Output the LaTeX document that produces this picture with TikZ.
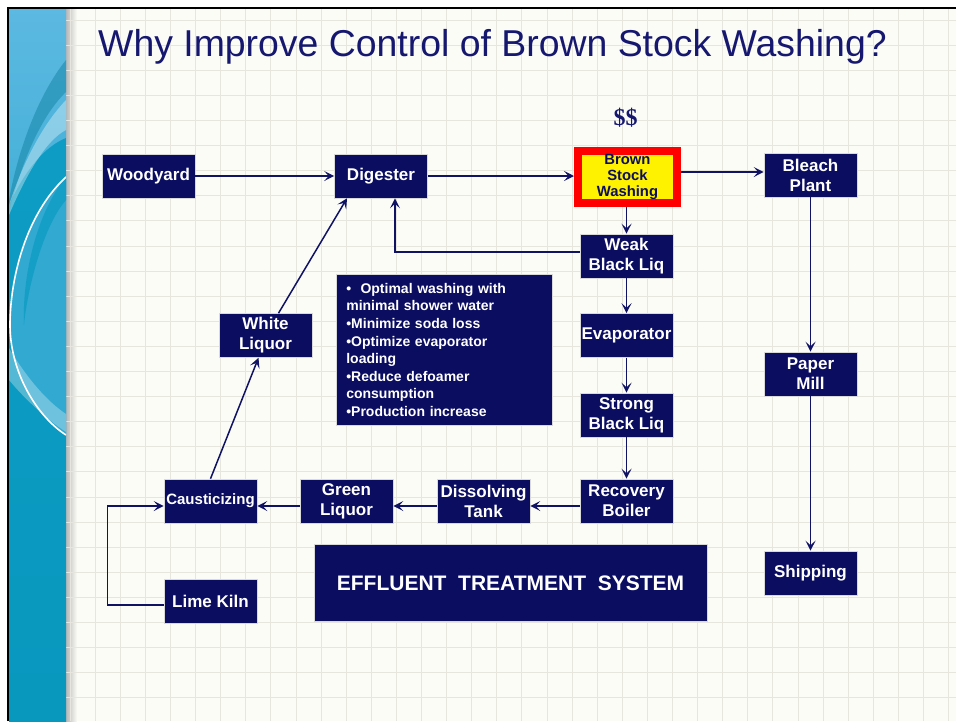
\documentclass[tikz,border=0pt]{standalone}
\usepackage{fontspec}
\setmainfont{Liberation Sans}
\newfontfamily\dollars{Liberation Serif}
\usetikzlibrary{arrows.meta,positioning}

\definecolor{marine}{RGB}{11,13,96}
\definecolor{trait}{RGB}{16,18,100}
\definecolor{titre}{RGB}{22,24,112}
\definecolor{fond}{RGB}{252,252,247}
\definecolor{grille}{RGB}{230,230,222}
\definecolor{bleuclair}{RGB}{92,185,225}
\definecolor{bleufonce}{RGB}{8,152,190}
\definecolor{turquoise}{RGB}{14,156,196}

\tikzset{
  bloc/.style={draw=black!15, line width=0.6pt, fill=marine, text=white,
    font=\fontsize{17}{20}\selectfont\bfseries,
    minimum width=93pt, minimum height=44pt, inner sep=0pt, align=center},
  fleche/.style={draw=trait, line width=1.5pt,
    -{Stealth[length=10pt,width=10pt,inset=4.5pt]}},
  ligne grille/.style={draw=grille, line width=0.8pt},
}

\begin{document}
\begin{tikzpicture}[x=1pt, y=-1pt]
  \useasboundingbox (0,0) rectangle (956,721);

  % fond de la diapo : cadre, bandeau bleu, quadrillage
  \fill[white] (0,0) rectangle (956,721);
  \fill[fond] (9,9) rectangle (956,721);
  \shade[left color=black!28, right color=fond] (66,9) rectangle (77,721);
  \foreach \i in {0,...,35}
    \draw[ligne grille] (70+25.1*\i,9) -- (70+25.1*\i,721);
  \foreach \j in {0,...,27}
    \draw[ligne grille] (66,20+25.1*\j) -- (956,20+25.1*\j);

  \begin{scope}
    \clip (9,9) rectangle (66,721);
    \shade[top color=bleuclair, bottom color=bleufonce] (9,9) rectangle (66,721);
    \shade[top color=turquoise, bottom color=bleufonce] (9,205) .. controls (26,168) and (46,146) .. (66,138)
      -- (66,721) -- (9,721) -- cycle;
    \fill[bleuclair!45!turquoise] (66,177) .. controls (25,215) and (10,280) .. (10,325)
      .. controls (10,370) and (35,415) .. (66,435) -- cycle;
    \fill[turquoise, opacity=.8] (66,177) .. controls (35,215) and (22,280) .. (24,325)
      .. controls (26,300) and (40,230) .. (66,200) -- cycle;
    \fill[turquoise!80!black, opacity=.45] (66,60) .. controls (38,95) and (18,150) .. (9,200)
      -- (9,212) .. controls (22,160) and (42,115) .. (66,92) -- cycle;
    \fill[white, opacity=.35] (66,100) .. controls (42,125) and (22,165) .. (9,205)
      -- (9,215) .. controls (26,175) and (46,140) .. (66,130) -- cycle;
    \fill[white, opacity=.3] (9,348) .. controls (28,380) and (48,402) .. (66,414)
      -- (66,432) .. controls (45,418) and (24,398) .. (9,380) -- cycle;
    \draw[white, line width=1.6pt] (66,177) .. controls (25,215) and (10,280) .. (10,325)
      .. controls (10,370) and (35,415) .. (66,435);
  \end{scope}
  \draw[black, line width=2.5pt] (8,721) -- (8,8) -- (956,8);

  \node[anchor=base west, text=titre, font=\fontsize{37.4}{40}\selectfont, inner sep=0pt]
    (titre) at (98,56) {Why Improve Control of Brown Stock Washing?};
  \node[text=titre, font=\dollars\fontsize{24}{24}\selectfont\bfseries] (cout) at (625.5,118) {\$\$};

  % les etapes du procede
  \node[bloc] (bois) at (148.5,176) {Woodyard};
  \node[bloc] (lessiveur) at (381,176) {Digester};
  \node[draw=red, line width=8pt, fill=yellow, text=marine,
    font=\fontsize{14.8}{15.8}\selectfont\bfseries,
    minimum width=99pt, minimum height=52pt, inner sep=0pt, align=center]
    (lavage) at (627.5,177) {Brown\\Stock\\Washing};
  \node[bloc] (blanchiment) at (810.5,175) {Bleach\\Plant};
  \node[bloc] (liqfaible) at (626.5,256) {Weak\\Black Liq};
  \node[bloc] (evap) at (626.5,335.5) {Evaporator};
  \node[bloc] (liqforte) at (626.5,415) {Strong\\Black Liq};
  \node[bloc] (chaudiere) at (626.5,501) {Recovery\\Boiler};
  \node[bloc] (dissol) at (483.5,501) {Dissolving\\Tank};
  \node[bloc] (liqverte) at (346.5,501) {Green\\Liquor};
  \node[bloc, font=\fontsize{15}{18}\selectfont\bfseries] (caust) at (210.5,501) {Causticizing};
  \node[bloc] (four) at (210.5,601) {Lime Kiln};
  \node[bloc] (liqblanche) at (265.5,335.5) {White\\Liquor};
  \node[bloc] (papier) at (810.5,374) {Paper\\Mill};
  \node[bloc] (expedition) at (810.5,573) {Shipping};
  \node[bloc, minimum width=393pt, minimum height=77pt,
    font=\fontsize{21}{24}\selectfont\bfseries]
    (effluents) at (510.5,583) {EFFLUENT\ \ TREATMENT\ \ SYSTEM};
  \node[bloc, anchor=north west, minimum width=216pt, minimum height=151pt,
    text width=196pt, inner xsep=10pt, align=left,
    font=\fontsize{14}{17.6}\selectfont\bfseries]
    (gains) at (336,274) {\textbullet\ \ Optimal washing with\\
      minimal shower water\\
      \textbullet Minimize soda loss\\
      \textbullet Optimize evaporator\\
      loading\\
      \textbullet Reduce defoamer\\
      consumption\\
      \textbullet Production increase};

  % les liaisons
  \draw[fleche] (bois) -- (lessiveur);
  \draw[fleche] (lessiveur) -- (lessiveur -| lavage.west);
  \draw[fleche] ([yshift=5pt]lavage.east) -- ([yshift=5pt]lavage.east -| blanchiment.west);
  \draw[fleche] (lavage.south -| liqfaible) -- (liqfaible);
  \draw[fleche] ([yshift=4pt]liqfaible.west) -| ([xshift=14pt]lessiveur.south);
  \draw[fleche] (liqfaible) -- (evap);
  \draw[fleche] (evap) -- (liqforte);
  \draw[fleche] (liqforte) -- (chaudiere);
  \draw[fleche] ([yshift=-5pt]chaudiere.west) -- ([yshift=-5pt]dissol.east);
  \draw[fleche] ([yshift=-5pt]dissol.west) -- ([yshift=-5pt]liqverte.east);
  \draw[fleche] ([yshift=-5pt]liqverte.west) -- ([yshift=-5pt]caust.east);
  \draw[fleche] (caust.north) -- ([xshift=-7pt]liqblanche.south);
  \draw[fleche] ([xshift=13pt]liqblanche.north) -- ([xshift=-34pt]lessiveur.south);
  \draw[fleche] ([yshift=-4pt]four.west) -- ++(-56,0) |- ([yshift=-5pt]caust.west);
  \draw[fleche] (blanchiment) -- (papier);
  \draw[fleche] (papier) -- (expedition);
\end{tikzpicture}
\end{document}
